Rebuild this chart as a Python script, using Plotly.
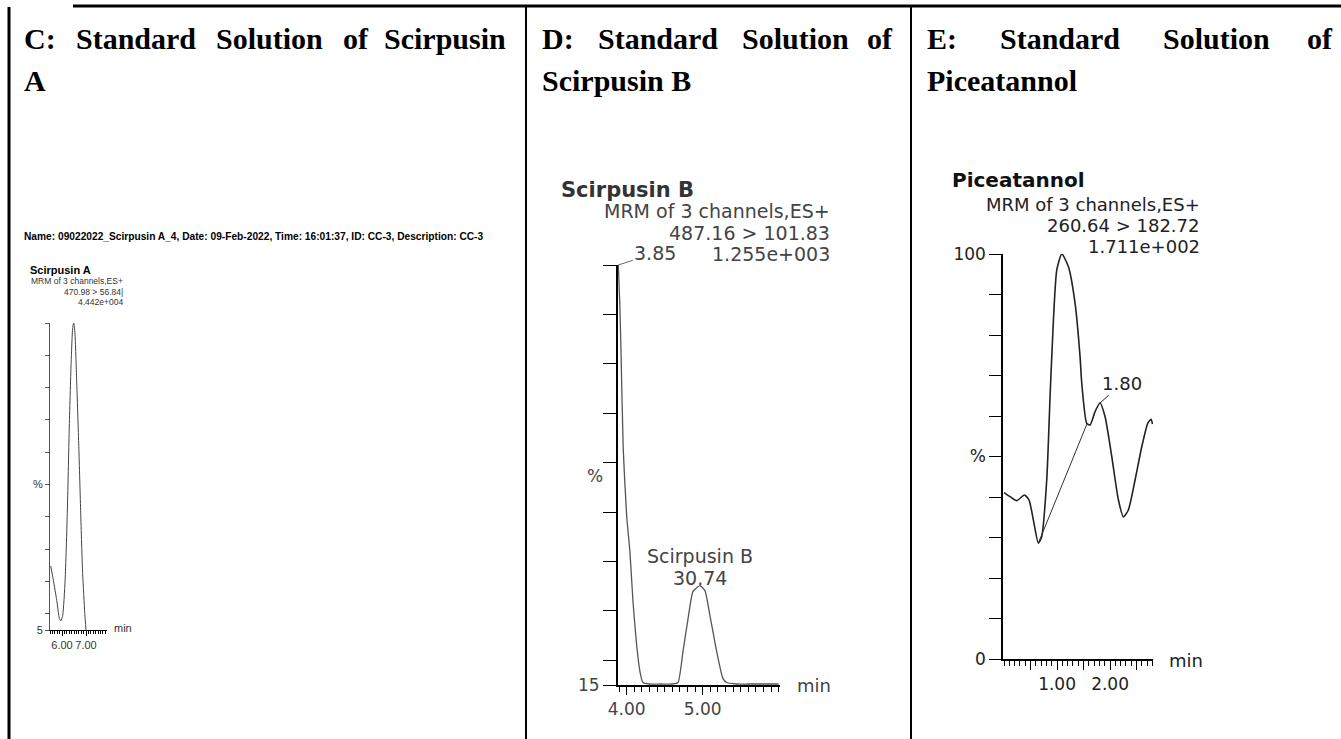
import plotly.graph_objects as go

W, H = 1341, 739

# C: standard solution of Scirpusin A (min, % intensity)
c_time = [5.53, 5.64, 5.78, 5.89, 5.95, 6.03, 6.13, 6.22, 6.30, 6.38, 6.45, 6.49,
          6.54, 6.61, 6.70, 6.78, 6.86, 6.95, 7.00]
c_intensity = [24.8, 20.4, 14.2, 8.6, 7.8, 9.6, 20.4, 41.1, 66.9, 87.5, 98.9, 100,
               96.8, 82.4, 61.7, 41.1, 22.5, 10.1, 5.0]
c_xticks = [6, 7]
c_xlabels = ["6.00", "7.00"]
c_yticks = [5, 10, 20, 30, 40, 50, 60, 70, 80, 90, 100]
c_ylabels = ["5", "", "", "", "", "%", "", "", "", "", ""]

# D: standard solution of Scirpusin B
d_time = [3.89, 3.91, 3.925, 3.955, 4.00, 4.043, 4.083, 4.132, 4.175, 4.214, 4.30,
          4.45, 4.60, 4.675, 4.741, 4.807, 4.872, 4.964, 5.03, 5.096, 5.184, 5.267,
          5.316, 5.45, 5.60, 5.80, 6.0]
d_intensity = [100, 92, 82.9, 62.7, 49.2, 41.9, 31.9, 23.0, 17.7, 15.5, 15.2,
               15.2, 15.2, 15.5, 21.8, 28.4, 33.9, 35.1, 34.1, 29.0, 21.8, 16.3,
               15.5, 15.2, 15.2, 15.2, 15.2]
d_xticks = [4, 5]
d_xlabels = ["4.00", "5.00"]
d_yticks = [15, 20, 30, 40, 50, 60, 70, 80, 90, 100]
d_ylabels = ["15", "", "", "", "", "", "", "", "", ""]

# E: standard solution of Piceatannol
e_time = [0.0, 0.113, 0.24, 0.383, 0.47, 0.553, 0.647, 0.71, 0.805, 0.868, 0.90,
          0.994, 1.089, 1.213, 1.34, 1.434, 1.466, 1.56, 1.623, 1.717, 1.811,
          1.906, 2.032, 2.157, 2.251, 2.345, 2.472, 2.598, 2.711, 2.774, 2.80]
e_intensity = [41.1, 40.1, 39.1, 40.5, 39.3, 34.3, 28.6, 30.2, 44.2, 64.8, 74.6,
               96.0, 100, 96.9, 87.8, 74.6, 68.1, 58.2, 57.8, 61.1, 63.2,
               59.8, 50.0, 39.3, 35.1, 36.8, 44.2, 52.4, 58.2, 59.2, 58.0]
e_base_time = [0.647, 1.566]
e_base_intensity = [28.6, 58.1]
e_xticks = [0.5, 1, 1.5, 2, 2.5]
e_xlabels = ["", "1.00", "", "2.00", ""]
e_yticks = [0, 10, 20, 30, 40, 50, 60, 70, 80, 90, 100]
e_ylabels = ["0", "", "", "", "", "%", "", "", "", "", "100"]


def px(x):
    return x / W


def py(y):
    return 1 - y / H


SMALL = "Liberation Sans, Arial, sans-serif"
SANS = "DejaVu Sans, sans-serif"
SERIF = "Liberation Serif, Times New Roman, serif"

fig = go.Figure()
fig.add_trace(go.Scatter(x=c_time, y=c_intensity, xaxis="x", yaxis="y", mode="lines",
                         line=dict(color="#444", width=1, shape="spline", smoothing=0.6),
                         hoverinfo="skip"))
fig.add_trace(go.Scatter(x=d_time, y=d_intensity, xaxis="x2", yaxis="y2", mode="lines",
                         line=dict(color="#555", width=1.3, shape="spline", smoothing=0.5),
                         hoverinfo="skip"))
fig.add_trace(go.Scatter(x=e_time, y=e_intensity, xaxis="x3", yaxis="y3", mode="lines",
                         line=dict(color="#222", width=1.6, shape="spline", smoothing=0.6),
                         hoverinfo="skip"))
fig.add_trace(go.Scatter(x=e_base_time, y=e_base_intensity, xaxis="x3", yaxis="y3",
                         mode="lines", line=dict(color="#333", width=1), hoverinfo="skip"))


def xaxis(dom, rng, vals, labels, anchor, font, ticklen, minor_len, lw):
    return dict(domain=[px(dom[0]), px(dom[1])], range=rng, anchor=anchor,
                automargin=False, tickangle=0,
                showline=True, linecolor="black", linewidth=lw, showgrid=False,
                zeroline=False, ticks="outside", ticklen=ticklen, tickcolor="black",
                tickmode="array", tickvals=vals, ticktext=labels, tickfont=font,
                minor=dict(ticks="outside", ticklen=minor_len, tickcolor="black",
                           tickmode="linear", tick0=0, dtick=0.1, showgrid=False))


def yaxis(dom, rng, vals, labels, anchor, font, ticklen, lw, color="black"):
    return dict(domain=[py(dom[1]), py(dom[0])], range=rng, anchor=anchor,
                automargin=False,
                showline=True, linecolor=color, linewidth=lw, showgrid=False,
                zeroline=False, ticks="outside", ticklen=ticklen, tickcolor=color,
                tickmode="array", tickvals=vals, ticktext=labels, tickfont=font)


c_font = dict(family=SMALL, size=11, color="#333")
d_font = dict(family=SANS, size=17, color="#444")
e_font = dict(family=SANS, size=17, color="#222")

annotations = []


def note(text, x, y, size, family, anchor="left", color="black"):
    annotations.append(dict(text=text, x=px(x), y=py(y), xref="paper", yref="paper",
                            xanchor=anchor, yanchor="middle", showarrow=False,
                            font=dict(family=family, size=size, color=color)))


# panel titles (justified first lines)
for word, x, anchor in [("C:", 22, "left"), ("Standard", 74, "left"),
                        ("Solution", 214, "left"), ("of", 341, "left"),
                        ("Scirpusin", 508, "right")]:
    note("<b>%s</b>" % word, x, 38, 30, SERIF, anchor)
note("<b>A</b>", 22, 80, 30, SERIF)
for word, x, anchor in [("D:", 540, "left"), ("Standard", 596, "left"),
                        ("Solution", 740, "left"), ("of", 895, "right")]:
    note("<b>%s</b>" % word, x, 38, 30, SERIF, anchor)
note("<b>Scirpusin B</b>", 540, 80, 30, SERIF)
for word, x, anchor in [("E:", 925, "left"), ("Standard", 998, "left"),
                        ("Solution", 1161, "left"), ("of", 1335, "right")]:
    note("<b>%s</b>" % word, x, 38, 30, SERIF, anchor)
note("<b>Piceatannol</b>", 925, 80, 30, SERIF)

# panel C header text
note("<b>Name: 09022022_Scirpusin A_4, Date: 09-Feb-2022, Time: 16:01:37, ID: CC-3, "
     "Description: CC-3</b>", 22, 236, 10.2, SMALL)
note("<b>Scirpusin A</b>", 28, 270, 11, SMALL)
note("MRM of 3 channels,ES+", 125, 281, 8.5, SMALL, "right", "#333")
note("470.98 > 56.84|", 125, 292, 8.5, SMALL, "right", "#333")
note("4.442e+004", 125, 302, 8.5, SMALL, "right", "#333")
note("min", 112, 628, 11, SMALL, "left", "#333")

# panel D header text
note("<b>Scirpusin B</b>", 559, 190, 21, SANS, "left", "#333")
note("MRM of 3 channels,ES+", 832, 211, 19, SANS, "right", "#444")
note("487.16 > 101.83", 832, 233, 19, SANS, "right", "#444")
note("1.255e+003", 832, 254, 19, SANS, "right", "#444")
note("Scirpusin B", 700, 556, 19, SANS, "center", "#444")
note("30.74", 700, 578, 19, SANS, "center", "#444")
note("min", 795, 685, 18, SANS, "left", "#444")
annotations.append(dict(text="%", x=0, y=57.3, xref="x2 domain", yref="y2",
                        xanchor="right", yanchor="middle", xshift=-13, showarrow=False,
                        font=dict(family=SANS, size=17, color="#444")))
annotations.append(dict(text="3.85", x=3.89, y=100, xref="x2", yref="y2", ax=37, ay=-12,
                        showarrow=True, arrowhead=0, arrowwidth=1, arrowcolor="#666",
                        font=dict(family=SANS, size=19, color="#444")))

# panel E header text
note("<b>Piceatannol</b>", 950, 180, 20, SANS, "left", "#111")
note("MRM of 3 channels,ES+", 1202, 204, 18, SANS, "right", "#222")
note("260.64 > 182.72", 1202, 225, 18, SANS, "right", "#222")
note("1.711e+002", 1202, 246, 18, SANS, "right", "#222")
note("min", 1167, 660, 18, SANS, "left", "#222")
annotations.append(dict(text="1.80", x=1.811, y=63.2, xref="x3", yref="y3", ax=22, ay=-20,
                        showarrow=True, arrowhead=0, arrowwidth=1, arrowcolor="#222",
                        font=dict(family=SANS, size=18, color="#222")))

# table borders
line = dict(color="black", width=2)
shapes = [
    dict(type="line", xref="paper", yref="paper", x0=px(73), x1=1, y0=py(6), y1=py(6),
         line=dict(color="black", width=3)),
    dict(type="line", xref="paper", yref="paper", x0=px(9), x1=px(9), y0=py(7), y1=0,
         line=dict(color="black", width=3)),
    dict(type="line", xref="paper", yref="paper", x0=px(526), x1=px(526), y0=py(7), y1=0,
         line=line),
    dict(type="line", xref="paper", yref="paper", x0=px(911), x1=px(911), y0=py(7), y1=0,
         line=line),
]

fig.update_layout(
    width=W, height=H, margin=dict(l=0, r=0, t=0, b=0, pad=0), autosize=False,
    paper_bgcolor="white", plot_bgcolor="white", showlegend=False,
    xaxis=xaxis((50, 107), [5.5, 7.875], c_xticks, c_xlabels, "y", c_font, 5, 3, 1),
    yaxis=yaxis((323, 630), [5, 100], c_yticks, c_ylabels, "x", c_font, 4, 1, "#555"),
    xaxis2=xaxis((618, 780), [3.886, 6.017], d_xticks, d_xlabels, "y2", d_font, 8, 5, 2),
    yaxis2=yaxis((265, 685), [15, 100], d_yticks, d_ylabels, "x2", d_font, 13, 2),
    xaxis3=xaxis((1003, 1153), [-0.02, 2.81], e_xticks, e_xlabels, "y3", e_font, 9, 5, 1.5),
    yaxis3=yaxis((254, 659), [0, 100], e_yticks, e_ylabels, "x3", e_font, 12, 1.5),
    annotations=annotations,
    shapes=shapes,
)

# the page's default body margin would push the figure off the window
fig.write_html("out.html", config={"displayModeBar": False},
               post_script="document.body.style.margin = '0px';")
